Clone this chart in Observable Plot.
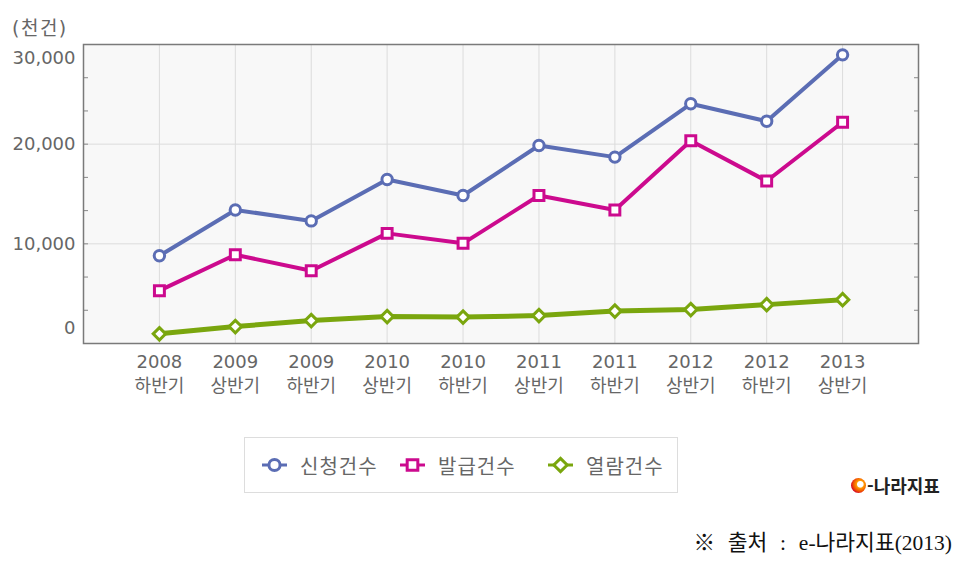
<!DOCTYPE html>
<html lang="ko">
<head>
<meta charset="utf-8">
<script src="https://cdn.jsdelivr.net/npm/d3@7"></script>
<script src="https://cdn.jsdelivr.net/npm/@observablehq/plot@0.6"></script>
<style>
  body { margin: 0; width: 965px; height: 564px; position: relative; background: #fff; overflow: hidden;
         font-family: "DejaVu Sans", "Noto Sans CJK KR", sans-serif; color: #666; }
  #chart { position: absolute; left: 0; top: 0; }
  #unit { position: absolute; left: 12px; top: 16px; font-size: 19px; line-height: 24px; color: #666; letter-spacing: 1.5px; }
  #legend { position: absolute; left: 244px; top: 437px; width: 434px; height: 56px; border: 1px solid #ddd;
            background: #fff; padding-left: 17px; box-sizing: border-box; white-space: nowrap; }
  .item { position: absolute; top: 0; height: 54px; display: flex; align-items: center; font-size: 20px; color: #666;
          font-family: "Noto Sans CJK KR", sans-serif; letter-spacing: 1px; white-space: nowrap; }
  .item svg { margin-right: 13px; flex: none; }
  #logo { position: absolute; left: 851px; top: 472px; display: flex; align-items: center;
          font-family: "Noto Sans CJK KR", sans-serif; font-weight: 700; font-size: 18px; color: #222; }
  #logo .e { width: 15px; height: 15px; border-radius: 50%; margin-right: 1px;
             background: radial-gradient(circle at 62% 42%, #ffffff 0%, #ffffff 22%, #ff9a00 30%, #f05000 55%, #d2002a 75%, #2a4fa0 100%); }
  #caption { position: absolute; right: 13px; top: 525px; font-size: 21.5px; color: #111;
             font-family: "Liberation Serif", "Noto Sans CJK KR", serif; white-space: pre; word-spacing: 1px; }
</style>
</head>
<body>
<div id="chart"></div>
<div id="unit">(천건)</div>
<div id="legend"></div>
<div id="logo"><span class="e"></span><span>-나라지표</span></div>
<div id="caption">※  출처  :  e-나라지표(2013)</div>
<script>
// ---- data ----
const years = ["2008", "2009", "2009", "2010", "2010", "2011", "2011", "2012", "2012", "2013"];
const halves = ["하반기", "상반기", "하반기", "상반기", "하반기", "상반기", "하반기", "상반기", "하반기", "상반기"];
const seriesNames = ["신청건수", "발급건수", "열람건수"];
const applications = [8800, 13400, 12300, 16450, 14850, 19870, 18700, 24050, 22300, 28960];
const issuances = [5300, 8900, 7300, 11050, 10050, 14850, 13400, 20350, 16300, 22200];
const views = [970, 1700, 2300, 2700, 2650, 2800, 3250, 3400, 3900, 4400];
const yTicks = [0, 10000, 20000, 30000];

// ---- styles ----
const colors = ["#5b6db4", "#cc0a8e", "#7aa60e"];
const symbols = ["circle", "square", "diamond2"];
const radii = [5.2, 5.6, 5.6];
const lineWidths = [4, 4, 5];
const legendLeft = [17, 155, 303];

const labels = years.map((y, i) => `${y}\n${halves[i]}`);
const valuesList = [applications, issuances, views];
const rowsFor = (k) => labels.map((p, i) => ({period: p, value: valuesList[k][i], series: seriesNames[k]}));
const minor = d3.range(0, 30001, 10000 / 3);
const fmt = d3.format(",");

const seriesMarks = [];
for (let k = 0; k < 3; k++) {
  seriesMarks.push(Plot.line(rowsFor(k), {x: "period", y: "value", stroke: colors[k], strokeWidth: lineWidths[k]}));
}
for (let k = 0; k < 3; k++) {
  seriesMarks.push(Plot.dot(rowsFor(k), {x: "period", y: "value", symbol: symbols[k], r: radii[k],
    stroke: colors[k], strokeWidth: 3, fill: "white"}));
}

const chart = Plot.plot({
  width: 965,
  height: 410,
  marginTop: 44,
  marginLeft: 83,
  marginRight: 47,
  marginBottom: 67,
  style: {fontFamily: '"DejaVu Sans", "Noto Sans CJK KR", sans-serif', fontSize: "18px", color: "#666", background: "transparent", overflow: "visible"},
  x: {type: "point", domain: labels, padding: 1, round: false, label: null},
  y: {domain: [0, 30000], label: null},
  marks: [
    Plot.frame({fill: "#f8f8f8", stroke: null}),
    Plot.gridY([10000, 20000], {stroke: "#dcdcdc", strokeOpacity: 1}),
    Plot.gridX(labels, {stroke: "#dcdcdc", strokeOpacity: 1}),
    Plot.axisY(minor, {anchor: "left", tickSize: -5, tickFormat: () => "", stroke: "#888"}),
    Plot.axisY(minor, {anchor: "right", tickSize: -5, tickFormat: () => "", stroke: "#888"}),
    Plot.axisY(yTicks.slice(1, 3), {anchor: "left", tickSize: 0, tickPadding: 8, tickFormat: fmt}),
    Plot.axisY([yTicks[3]], {anchor: "left", tickSize: 0, tickPadding: 8, tickFormat: fmt, dy: 14}),
    Plot.axisY([yTicks[0]], {anchor: "left", tickSize: 0, tickPadding: 8, tickFormat: fmt, dy: -15}),
    Plot.axisX({tickSize: 0, tickPadding: 8, lineHeight: 1.3}),
    Plot.frame({stroke: "#7a7a7a", strokeWidth: 1.5}),
    ...seriesMarks
  ]
});
document.getElementById("chart").appendChild(chart);

// ---- legend ----
const legend = document.getElementById("legend");
const symMap = {circle: d3.symbolCircle, square: d3.symbolSquare, diamond2: d3.symbolDiamond2};
seriesNames.forEach((name, k) => {
  const item = document.createElement("div");
  item.className = "item";
  item.style.left = legendLeft[k] + "px";
  const svg = d3.create("svg").attr("width", 25).attr("height", 18);
  svg.append("line").attr("x1", 0).attr("x2", 25).attr("y1", 9).attr("y2", 9)
    .attr("stroke", colors[k]).attr("stroke-width", 3);
  svg.append("path").attr("transform", "translate(12.5,9)")
    .attr("d", d3.symbol(symMap[symbols[k]], Math.PI * radii[k] * radii[k] * 1.15)())
    .attr("fill", "white").attr("stroke", colors[k]).attr("stroke-width", 3);
  item.appendChild(svg.node());
  const t = document.createElement("span");
  t.textContent = name;
  item.appendChild(t);
  legend.appendChild(item);
});
</script>
</body>
</html>
